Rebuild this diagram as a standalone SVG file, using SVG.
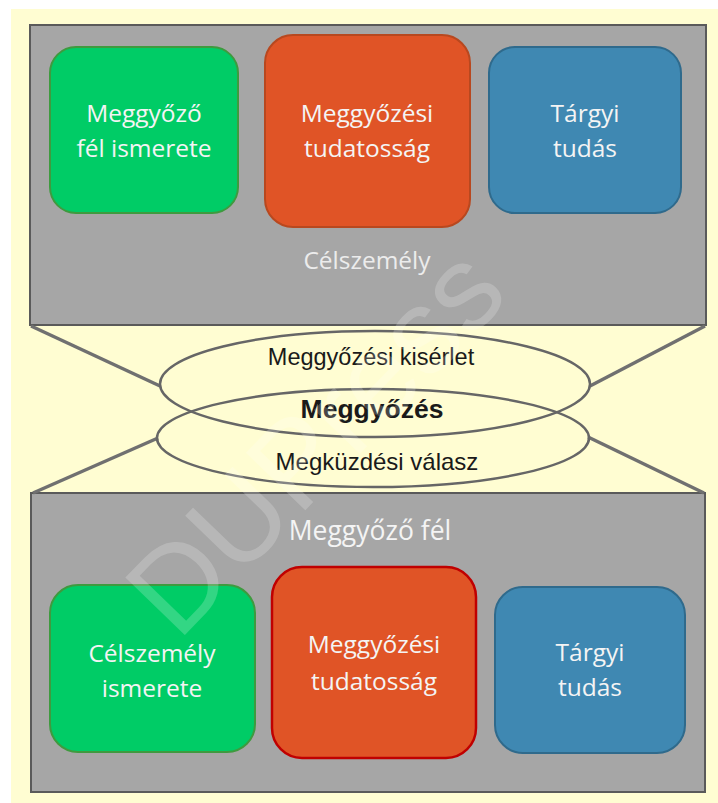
<svg xmlns="http://www.w3.org/2000/svg" width="718" height="803" viewBox="0 0 718 803">
  <style>
    .panel { fill: #a6a6a6; stroke: #5a5a5a; stroke-width: 2; }
    .box-text { font-family: "Open Sans", "Noto Sans", sans-serif; font-size: 24.5px; fill: #f4f4f4; text-anchor: middle; }
    .green { fill: #00cc66; stroke: #3f9a3f; stroke-width: 2; }
    .orange { fill: #e05426; stroke: #b8481f; stroke-width: 2; }
    .orange-red { fill: #e05426; stroke: #c00000; stroke-width: 2.5; }
    .blue { fill: #3f88b2; stroke: #2f6a8c; stroke-width: 2; }
    .link { stroke: #707070; stroke-width: 3.5; fill: none; }
    .ring { stroke: #666666; stroke-width: 2.5; fill: none; }
    .ring-text { font-family: "Liberation Sans", Arial, sans-serif; font-size: 23.5px; fill: #1a1a1a; text-anchor: middle; }
  </style>

  <!-- background -->
  <rect x="0" y="0" width="718" height="803" fill="#ffffff"/>
  <rect x="11" y="9" width="707" height="794" fill="#fffdd2"/>

  <!-- upper panel: target person -->
  <g id="celszemely">
    <rect class="panel" x="30" y="25" width="676" height="300"/>
    <text class="box-text" x="367" y="269" style="fill:#ececec">Célszemély</text>
  </g>
  <g id="top-green">
    <rect class="green" x="50" y="47" width="188" height="166" rx="26"/>
    <text class="box-text" x="144" y="122">Meggyőző</text>
    <text class="box-text" x="144" y="157">fél ismerete</text>
  </g>
  <g id="top-orange">
    <rect class="orange" x="265" y="35" width="205" height="192" rx="28"/>
    <text class="box-text" x="367" y="122">Meggyőzési</text>
    <text class="box-text" x="367" y="157">tudatosság</text>
  </g>
  <g id="top-blue">
    <rect class="blue" x="489" y="47" width="192" height="166" rx="26"/>
    <text class="box-text" x="585" y="122">Tárgyi</text>
    <text class="box-text" x="585" y="157">tudás</text>
  </g>

  <!-- lower panel: persuader -->
  <g id="meggyozo-fel">
    <rect class="panel" x="31" y="493" width="674" height="299"/>
    <text class="box-text" x="370" y="540" style="font-size:26.5px">Meggyőző fél</text>
  </g>
  <g id="bottom-green">
    <rect class="green" x="50" y="585" width="205" height="167" rx="28"/>
    <text class="box-text" x="152" y="662">Célszemély</text>
    <text class="box-text" x="152" y="697">ismerete</text>
  </g>
  <g id="bottom-orange">
    <rect class="orange-red" x="272" y="567" width="204" height="191" rx="30"/>
    <text class="box-text" x="374" y="653">Meggyőzési</text>
    <text class="box-text" x="374" y="690">tudatosság</text>
  </g>
  <g id="bottom-blue">
    <rect class="blue" x="495" y="587" width="190" height="166" rx="28"/>
    <text class="box-text" x="590" y="661">Tárgyi</text>
    <text class="box-text" x="590" y="696">tudás</text>
  </g>

  <!-- connectors: panels to the persuasion ellipses -->
  <g id="connectors">
    <line class="link" x1="31" y1="326" x2="160" y2="386"/>
    <line class="link" x1="705" y1="326" x2="590" y2="386"/>
    <line class="link" x1="33" y1="493" x2="158" y2="438"/>
    <line class="link" x1="704" y1="493" x2="588" y2="437"/>
  </g>

  <!-- persuasion ellipses -->
  <g id="meggyozes">
    <ellipse class="ring" cx="375" cy="384" rx="215" ry="53"/>
    <ellipse class="ring" cx="373" cy="438" rx="216" ry="49"/>
    <text class="ring-text" x="371" y="365">Meggyőzési kisérlet</text>
    <text class="ring-text" x="372" y="418" style="font-weight:bold;font-size:26.5px">Meggyőzés</text>
    <text class="ring-text" x="377" y="470" style="font-size:24px">Megküzdési válasz</text>
  </g>

  <!-- publisher mark -->
  <text x="178" y="642" transform="rotate(-46 178 642)" font-family="Liberation Sans, Arial, sans-serif" font-size="120" fill="#ffffff" fill-opacity="0.2">DUPress</text>
</svg>
